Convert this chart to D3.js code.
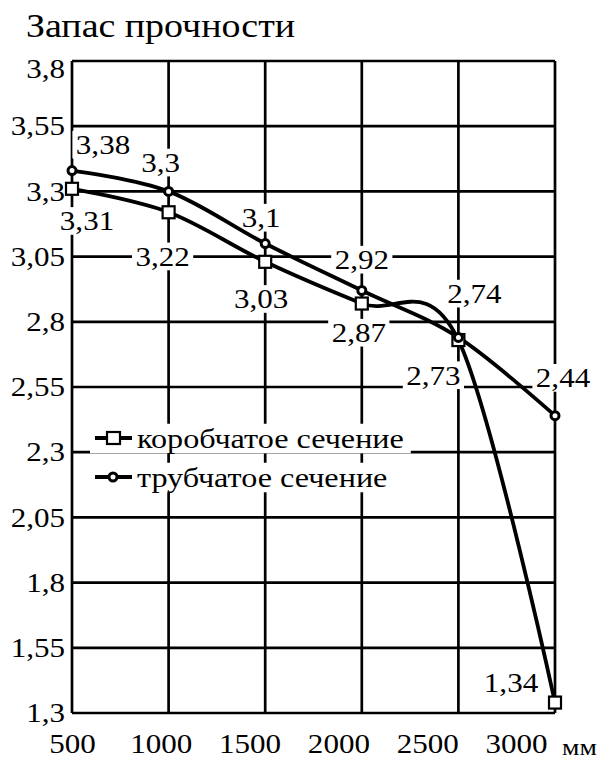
<!DOCTYPE html>
<html><head><meta charset="utf-8">
<script src="https://cdn.jsdelivr.net/npm/d3@7"></script>
</head><body style="margin:0"><svg id="c" width="606" height="760"></svg>
<script>
// ---- data ----
const categories = ["500", "1000", "1500", "2000", "2500", "3000"];
const boxValues  = [3.31, 3.22, 3.03, 2.87, 2.73, 1.34];
const tubeValues = [3.38, 3.30, 3.10, 2.92, 2.74, 2.44];
const yTicks      = [1.3, 1.55, 1.8, 2.05, 2.3, 2.55, 2.8, 3.05, 3.3, 3.55, 3.8];
const yTickLabels = ["1,3", "1,55", "1,8", "2,05", "2,3", "2,55", "2,8", "3,05", "3,3", "3,55", "3,8"];
const seriesNames = ["коробчатое сечение", "трубчатое сечение"];
const titleText = "Запас прочности";
const unitText = "мм";

// ---- layout (label nudges, not data) ----
const boxLabelOffsets  = [[15, 32], [-6, 44], [-4, 37], [-3, 29], [-25, 35], [-44, -20]];
const tubeLabelOffsets = [[31, -26], [-8, -29], [-4, -26], [0, -31], [16, -44], [8, -38]];

const FONT = '"Liberation Serif"';
const SX = 1.15;
const svg = d3.select("#c");
const L = 72, R = 555, T = 61, B = 713;

const x = d3.scalePoint().domain(categories).range([L, R]);
const xLab = d3.scalePoint().domain(categories).range([L, 516]);
const y = d3.scaleLinear().domain([1.3, 3.8]).range([B, T]);
const fmt = v => String(v).replace(".", ",");

function stext(parent, px, py, str, size, anchor, bg, pad) {
  const g = parent.append("g").attr("transform", `translate(${px},${py}) scale(${SX},1)`);
  const t = g.append("text").attr("text-anchor", anchor).attr("dy", "0.35em")
    .style("font-family", FONT).style("font-size", size + "px").attr("fill", "#000").text(str);
  if (bg) {
    const b = t.node().getBBox();
    const p = pad || 2;
    g.insert("rect", "text").attr("x", b.x - p).attr("y", b.y + 1)
      .attr("width", b.width + 2 * p).attr("height", b.height - 2).attr("fill", "#fff");
  }
  return g;
}

// title
svg.append("g").attr("transform", `translate(26,37) scale(${SX},1)`)
  .append("text").style("font-family", FONT).style("font-size", "33px").attr("fill", "#000").text(titleText);

// gridlines
const grid = svg.append("g").attr("stroke", "#000").attr("stroke-width", 2.7);
grid.selectAll("line.h").data(yTicks).join("line").attr("class", "h")
  .attr("x1", L).attr("x2", R).attr("y1", d => y(d)).attr("y2", d => y(d));
grid.selectAll("line.v").data(categories).join("line").attr("class", "v")
  .attr("x1", d => x(d)).attr("x2", d => x(d)).attr("y1", T).attr("y2", B);

// y axis labels
const ya = svg.append("g").attr("transform", `translate(${L},0)`)
  .call(d3.axisLeft(y).tickValues(yTicks).tickFormat((d, i) => yTickLabels[i]).tickSize(0).tickPadding(7));
ya.select(".domain").remove();
ya.attr("font-family", null).attr("font-size", null);
ya.selectAll("text").style("font-family", FONT).style("font-size", "27px").attr("fill", "#000")
  .attr("x", -6).attr("transform", `scale(${SX},1)`)
  .attr("dy", d => d === 3.8 ? "0.6em" : "0.32em");

// x axis labels
const xa = svg.append("g").attr("transform", `translate(0,${B})`)
  .call(d3.axisBottom(xLab).tickSize(0).tickPadding(21));
xa.select(".domain").remove();
xa.attr("font-family", null).attr("font-size", null);
xa.selectAll(".tick text").style("font-family", FONT).style("font-size", "27px").attr("fill", "#000")
  .attr("transform", `scale(${SX},1)`).attr("x", 0);
svg.append("g").attr("transform", `translate(562,755) scale(${SX},1)`)
  .append("text").style("font-family", FONT).style("font-size", "24px").attr("fill", "#000").text(unitText);

// data labels (white boxes over grid)
const labels = svg.append("g");
categories.forEach((c, i) => {
  stext(labels, x(c) + boxLabelOffsets[i][0], y(boxValues[i]) + boxLabelOffsets[i][1], fmt(boxValues[i]), 27, "middle", true, 3);
  stext(labels, x(c) + tubeLabelOffsets[i][0], y(tubeValues[i]) + tubeLabelOffsets[i][1], fmt(tubeValues[i]), 27, "middle", true, 3);
});

// curves
const line = d3.line().x((d, i) => x(categories[i])).y(d => y(d)).curve(d3.curveCardinal.tension(0));
svg.append("path").datum(boxValues).attr("d", line).attr("fill", "none").attr("stroke", "#000").attr("stroke-width", 3.8);
svg.append("path").datum(tubeValues).attr("d", line).attr("fill", "none").attr("stroke", "#000").attr("stroke-width", 3.8);

// markers
svg.append("g").selectAll("rect").data(boxValues).join("rect")
  .attr("x", (d, i) => x(categories[i]) - 6).attr("y", d => y(d) - 6)
  .attr("width", 12).attr("height", 12).attr("fill", "#fff").attr("stroke", "#000").attr("stroke-width", 2.2);
svg.append("g").selectAll("circle").data(tubeValues).join("circle")
  .attr("cx", (d, i) => x(categories[i])).attr("cy", d => y(d)).attr("r", 4)
  .attr("fill", "#fff").attr("stroke", "#000").attr("stroke-width", 3);

// legend
const leg = svg.append("g");
const legRows = [438, 477];
seriesNames.forEach((name, i) => {
  const ry = legRows[i];
  const g = stext(leg, 137, ry, name, 28, "start", true, 0);
  const r = g.select("rect");
  r.attr("x", -47 / SX).attr("width", +r.attr("width") + 47 / SX + 2);
  leg.append("line").attr("x1", 95).attr("x2", 132).attr("y1", ry).attr("y2", ry)
    .attr("stroke", "#000").attr("stroke-width", 3.8);
  if (i === 0) {
    leg.append("rect").attr("x", 107).attr("y", ry - 6).attr("width", 13).attr("height", 12)
      .attr("fill", "#fff").attr("stroke", "#000").attr("stroke-width", 2.2);
  } else {
    leg.append("circle").attr("cx", 113).attr("cy", ry).attr("r", 4)
      .attr("fill", "#fff").attr("stroke", "#000").attr("stroke-width", 3);
  }
});
</script></body></html>
